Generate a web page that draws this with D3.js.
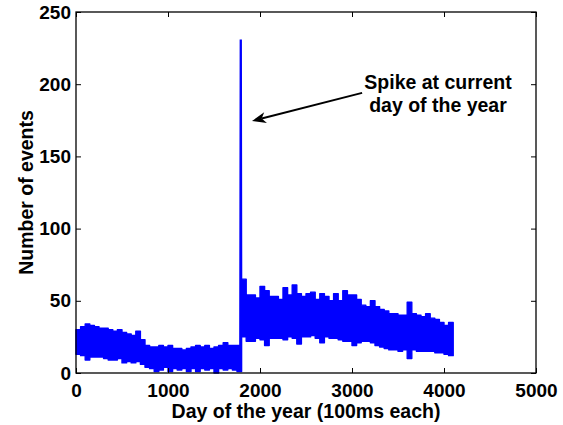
<!DOCTYPE html>
<meta charset="utf-8">
<head>
  <title>Number of events per day</title>
  <script src="https://d3js.org/d3.v7.min.js"></script>
  <style>
    body { margin: 0; background: white; }
    text { font-family: "Liberation Sans", Arial, Helvetica, sans-serif; font-weight: bold; }
  </style>
</head>
<body>
  <div id="my_dataviz"></div>
  <script>
    // binned envelope of the noisy series, one entry per 50 days starting at day 0
    var binWidth = 50;
    var hiVals = [30, 32, 34, 33, 32, 31, 31, 30, 29, 30, 28, 27, 26, 29, 23, 19, 18, 18,
      19, 18, 19, 17, 17, 16, 17, 18, 19, 18, 19, 17, 18, 19, 21, 19, 19, 19,
      65, 54, 54, 52, 60, 57, 53, 53, 51, 59, 54, 61, 55, 53, 55, 56, 51, 55, 53, 50,
      55, 50, 57, 54, 54, 51, 47, 46, 50, 46, 44, 43, 41, 41, 40, 40, 49, 41, 40, 39,
      41, 38, 37, 35, 33, 35];
    var loVals = [13, 12, 9, 11, 11, 11, 10, 9, 9, 10, 7, 8, 7, 8, 6, 4, 3, 1,
      2, 4, 1, 3, 2, 3, 1, 3, 1, 3, 2, 3, 0, 3, 2, 3, 2, 1,
      25, 22, 22, 24, 23, 19, 24, 24, 24, 23, 25, 24, 20, 25, 25, 26, 24, 21, 25, 24,
      24, 23, 22, 22, 19, 21, 22, 22, 21, 19, 18, 17, 16, 16, 15, 16, 10, 16, 15, 15,
      15, 15, 14, 14, 13, 12];

    // the spike
    var spikeDays = [1786, 1791, 1796];
    var spikeVals = [19, 231, 25];

    var xTicks = [0, 1000, 2000, 3000, 4000, 5000];
    var yTicks = [0, 50, 100, 150, 200, 250];

    // annotation, in data units
    var arrowTail = [3110, 194];
    var arrowTip = [1913, 174.5];
    var noteLines = ["Spike at current", "day of the year"];

    var margin = { top: 12, right: 27, bottom: 52, left: 76 },
      width = 563 - margin.left - margin.right,
      height = 425 - margin.top - margin.bottom;

    var svg = d3.select("#my_dataviz")
      .append("svg")
      .attr("width", 563)
      .attr("height", 425)
      .append("g")
      .attr("transform", "translate(" + margin.left + "," + margin.top + ")");

    var x = d3.scaleLinear().domain([0, 5000]).range([0, width]);
    var y = d3.scaleLinear().domain([0, 250]).range([height, 0]);

    var bins = hiVals.map(function (h, i) {
      return { day: i * binWidth, hi: h, lo: loVals[i] };
    });
    var last = bins[bins.length - 1];
    bins.push({ day: last.day + binWidth, hi: last.hi, lo: last.lo });

    var area = d3.area()
      .curve(d3.curveStepAfter)
      .x(function (d) { return x(d.day); })
      .y0(function (d) { return y(d.lo); })
      .y1(function (d) { return y(d.hi); });

    svg.append("path")
      .datum(bins)
      .attr("d", area)
      .attr("fill", "#0000ff")
      .attr("stroke", "#0000ff")
      .attr("stroke-width", 1.4)
      .attr("stroke-linejoin", "round");

    var spike = spikeDays.map(function (d, i) { return [d, spikeVals[i]]; });
    svg.append("path")
      .datum(spike)
      .attr("d", d3.line().x(function (d) { return x(d[0]); }).y(function (d) { return y(d[1]); }))
      .attr("fill", "none")
      .attr("stroke", "#0000ff")
      .attr("stroke-width", 2.3);

    // axes, MATLAB style with inward ticks on all sides
    function styleAxis(g) {
      g.select(".domain").remove();
      g.selectAll(".tick line").attr("stroke", "black").attr("stroke-width", 1);
      g.selectAll("text")
        .attr("fill", "black")
        .style("font-family", "'Liberation Sans', Arial, Helvetica, sans-serif")
        .style("font-weight", "bold")
        .style("font-size", "19px");
    }

    svg.append("g")
      .attr("transform", "translate(0," + height + ")")
      .call(d3.axisBottom(x).tickValues(xTicks).tickFormat(d3.format("d"))
        .tickSizeInner(-5).tickSizeOuter(0).tickPadding(11))
      .call(styleAxis);
    svg.append("g")
      .call(d3.axisTop(x).tickValues(xTicks).tickSizeInner(-5).tickSizeOuter(0).tickFormat(""))
      .call(styleAxis);
    svg.append("g")
      .call(d3.axisLeft(y).tickValues(yTicks).tickFormat(d3.format("d"))
        .tickSizeInner(-5).tickSizeOuter(0).tickPadding(5))
      .call(styleAxis);
    svg.append("g")
      .attr("transform", "translate(" + width + ",0)")
      .call(d3.axisRight(y).tickValues(yTicks).tickSizeInner(-5).tickSizeOuter(0).tickFormat(""))
      .call(styleAxis);

    svg.append("rect")
      .attr("width", width)
      .attr("height", height)
      .attr("fill", "none")
      .attr("stroke", "black")
      .attr("stroke-width", 1.3);

    svg.append("text")
      .attr("x", width / 2)
      .attr("y", height + 45)
      .attr("text-anchor", "middle")
      .style("font-size", "19.5px")
      .text("Day of the year (100ms each)");

    svg.append("text")
      .attr("transform", "translate(-43," + (height / 2) + ") rotate(-90)")
      .attr("text-anchor", "middle")
      .style("font-size", "19.5px")
      .text("Number of events");

    // arrow
    var tx = x(arrowTail[0]), ty = y(arrowTail[1]);
    var hx = x(arrowTip[0]), hy = y(arrowTip[1]);
    var ang = Math.atan2(hy - ty, hx - tx);
    var L = 14, W = 5.5, N = 10;
    function pt(a, b) {
      // a along the arrow back from the tip, b perpendicular
      return [hx - a * Math.cos(ang) - b * Math.sin(ang), hy - a * Math.sin(ang) + b * Math.cos(ang)];
    }
    svg.append("line")
      .attr("x1", tx).attr("y1", ty)
      .attr("x2", pt(N, 0)[0]).attr("y2", pt(N, 0)[1])
      .attr("stroke", "black")
      .attr("stroke-width", 2);
    svg.append("path")
      .attr("d", "M" + [pt(0, 0), pt(L, W), pt(N, 0), pt(L, -W)].join("L") + "Z")
      .attr("fill", "black");

    svg.selectAll(".note")
      .data(noteLines)
      .enter()
      .append("text")
      .attr("class", "note")
      .attr("x", 362)
      .attr("y", function (d, i) { return 77 + i * 23; })
      .attr("text-anchor", "middle")
      .style("font-size", "19.5px")
      .text(function (d) { return d; });
  </script>
</body>
</html>
